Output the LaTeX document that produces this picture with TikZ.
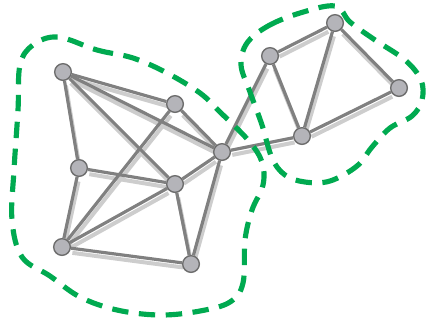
\documentclass[tikz,border=0pt]{standalone}
\usepackage{tikz}
\usetikzlibrary{backgrounds}
\usepackage{xcolor}
\definecolor{edgegray}{RGB}{128,128,128}
\definecolor{shadowgray}{RGB}{205,205,205}
\definecolor{vertexfill}{RGB}{180,180,185}
\definecolor{vertexline}{RGB}{110,110,110}
\definecolor{clustergreen}{RGB}{0,170,80}

\tikzset{
    vertex/.style={circle, fill=vertexfill, draw=vertexline, line width=1.2pt,
        minimum size=0.5cm, inner sep=0pt},
    link/.style={edgegray, line width=2.7pt},
    linkshadow/.style={shadowgray, line width=3.4pt},
    cluster/.style={clustergreen, line width=4.4pt, dash pattern=on 14pt off 9pt}
}

\begin{document}
\begin{tikzpicture}[x=0.03cm, y=-0.03cm]
\useasboundingbox (0,0) rectangle (430,322);

% vertices
\node[vertex] (A) at (63,72) {};
\node[vertex] (B) at (175,104) {};
\node[vertex] (C) at (79,168) {};
\node[vertex] (D) at (175,184) {};
\node[vertex] (E) at (222,152) {};
\node[vertex] (F) at (62,247) {};
\node[vertex] (G) at (191,264) {};
\node[vertex] (H) at (270,56) {};
\node[vertex] (I) at (335,23) {};
\node[vertex] (J) at (399,88) {};
\node[vertex] (K) at (302,136) {};

\begin{scope}[on background layer]
    % shadows of the links
    \begin{scope}[transform canvas={shift={(1.2pt,-4pt)}}]
        \foreach \a/\b in {A/B,A/C,A/D,A/E,B/E,B/F,C/D,C/F,F/D,D/E,
                           D/G,E/G,F/G,E/H,E/K,H/K,H/I,I/K,I/J,J/K}{
            \draw[linkshadow] (\a) -- (\b);
        }
    \end{scope}
    % links
    \foreach \a/\b in {A/B,A/C,A/D,A/E,B/E,B/F,C/D,C/F,F/D,D/E,
                       D/G,E/G,F/G,E/H,E/K,H/K,H/I,I/K,I/J,J/K}{
        \draw[link] (\a) -- (\b);
    }
\end{scope}

% left cluster
\draw[cluster] plot[smooth cycle, tension=0.6] coordinates {
    (58,37) (97,50) (133,58) (167,73) (200,93) (220,112) (248,140)
    (262,162) (263,185) (252,210) (245,240) (243,283) (230,302)
    (200,311) (160,315) (117,310) (80,297) (50,276) (22,257)
    (12,220) (14,170) (18,110) (20,65) (33,45)};

% right cluster
\draw[cluster] plot[smooth cycle, tension=0.6] coordinates {
    (247,43) (268,26) (300,13) (335,6) (350,22) (375,40) (405,60)
    (421,80) (422,100) (412,116) (390,128) (372,147) (357,166)
    (330,181) (305,182) (285,175) (272,158) (262,125) (250,92) (241,65)};
\end{tikzpicture}
\end{document}
